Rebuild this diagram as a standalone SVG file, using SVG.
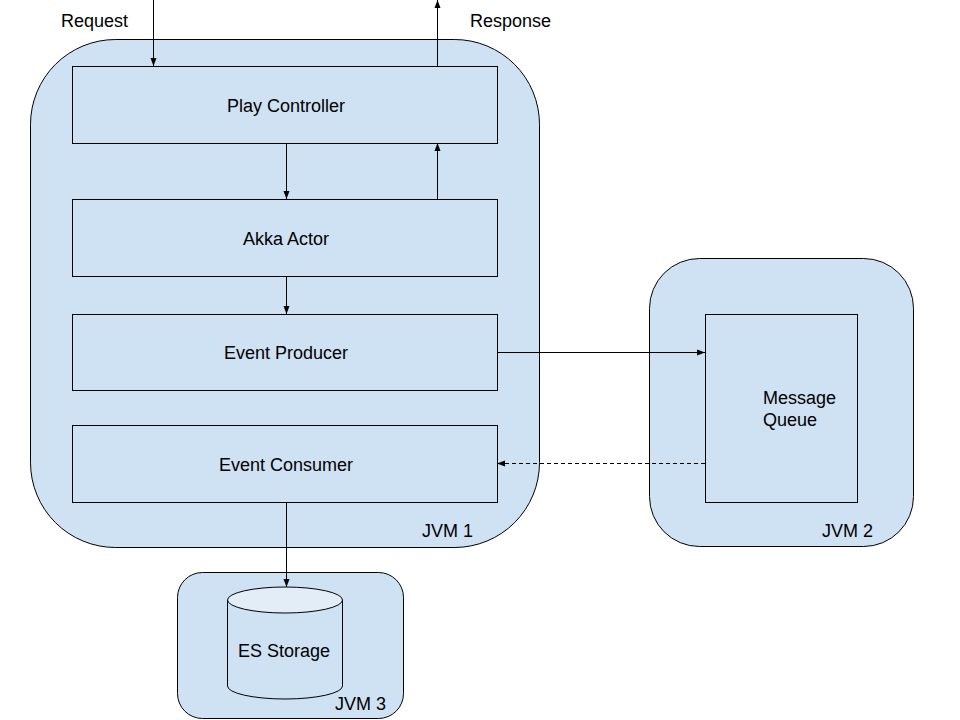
<svg xmlns="http://www.w3.org/2000/svg" width="960" height="720" viewBox="0 0 960 720">
<style>
.jvm{fill:#cfe2f3;stroke:#000;stroke-width:1}
.box{fill:#cfe2f3;stroke:#000;stroke-width:1}
.t{font-family:"Liberation Sans",Arial,sans-serif;font-size:18px;fill:#000}
.c{text-anchor:middle}
.e{text-anchor:end}
.ln{fill:none;stroke:#000;stroke-width:1}
.d{stroke-dasharray:4,3}
</style>
<defs>
<marker id="ah" viewBox="0 0 8 8" refX="8" refY="4" markerWidth="8" markerHeight="8" markerUnits="userSpaceOnUse" orient="auto">
<path d="M0,1 L8,4 L0,7 z" fill="#000"/>
</marker>
</defs>
<rect width="960" height="720" fill="#fff"/>
<g id="jvm1">
<rect class="jvm" x="30.5" y="39.5" width="509" height="508" rx="85" ry="85"/>
<text class="t e" x="473" y="537">JVM 1</text>
</g>
<g id="jvm2">
<rect class="jvm" x="649.5" y="258.5" width="264" height="288" rx="50" ry="50"/>
<text class="t e" x="873" y="537">JVM 2</text>
</g>
<g id="jvm3">
<rect class="jvm" x="177.5" y="572.5" width="226" height="146" rx="25" ry="25"/>
<text class="t e" x="386" y="710">JVM 3</text>
</g>
<g id="play-controller">
<rect class="box" x="72.5" y="66.5" width="425" height="77"/>
<text class="t c" x="286" y="112">Play Controller</text>
</g>
<g id="akka-actor">
<rect class="box" x="72.5" y="199.5" width="425" height="77"/>
<text class="t c" x="286" y="245">Akka Actor</text>
</g>
<g id="event-producer">
<rect class="box" x="72.5" y="314.5" width="425" height="76"/>
<text class="t c" x="286" y="359">Event Producer</text>
</g>
<g id="event-consumer">
<rect class="box" x="72.5" y="425.5" width="425" height="77"/>
<text class="t c" x="286" y="471">Event Consumer</text>
</g>
<g id="message-queue">
<rect class="box" x="705.5" y="314.5" width="152" height="188"/>
<text class="t" x="763" y="404">Message</text>
<text class="t" x="763" y="426">Queue</text>
</g>
<g id="es-storage">
<path class="box" d="M227.5,600 L227.5,686 A57.5,13 0 0 0 342.5,686 L342.5,600"/>
<ellipse cx="285" cy="600" rx="57.5" ry="13" fill="#e3edf8" stroke="#000" stroke-width="1"/>
<text class="t c" x="284" y="657">ES Storage</text>
</g>
<g id="labels">
<text class="t" x="61" y="27">Request</text>
<text class="t" x="470" y="27">Response</text>
</g>
<g id="connectors">
<line class="ln" x1="153.5" y1="0" x2="153.5" y2="66" marker-end="url(#ah)"/>
<line class="ln" x1="437.5" y1="66" x2="437.5" y2="0" marker-end="url(#ah)"/>
<line class="ln" x1="286.5" y1="143" x2="286.5" y2="199" marker-end="url(#ah)"/>
<line class="ln" x1="437.5" y1="199" x2="437.5" y2="143" marker-end="url(#ah)"/>
<line class="ln" x1="286.5" y1="276" x2="286.5" y2="314" marker-end="url(#ah)"/>
<line class="ln" x1="497" y1="352.5" x2="705" y2="352.5" marker-end="url(#ah)"/>
<line class="ln d" x1="705" y1="463.5" x2="497" y2="463.5" marker-end="url(#ah)"/>
<line class="ln" x1="286.5" y1="502" x2="286.5" y2="587" marker-end="url(#ah)"/>
</g>
</svg>
